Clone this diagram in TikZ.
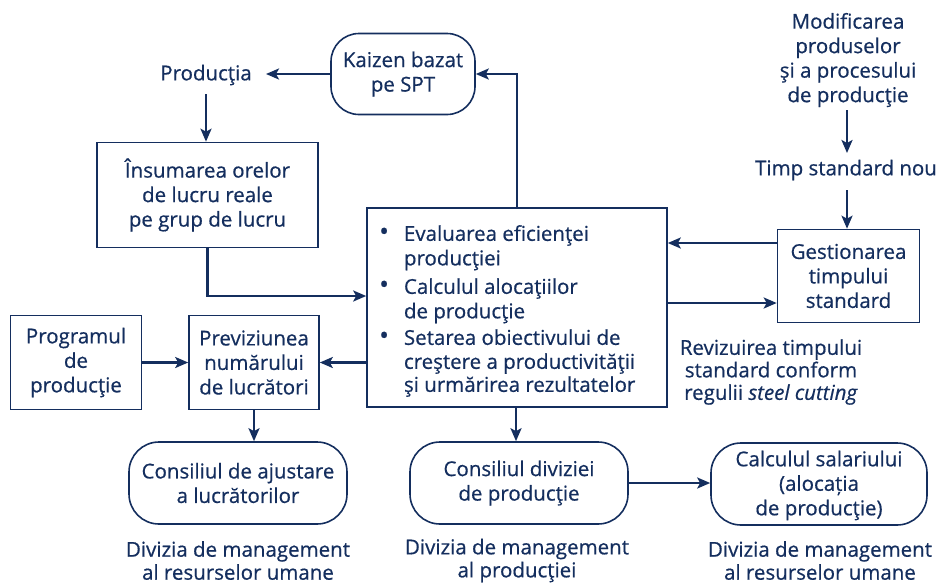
\documentclass[tikz,border=0pt]{standalone}
\usepackage{fontspec}
\setmainfont{Open Sans}[FakeBold=0.6]
\usetikzlibrary{arrows.meta}
\definecolor{navy}{RGB}{20,46,94}
\newcommand{\mybul}{\raisebox{0.5pt}{\fontsize{26}{20}\selectfont\textbullet}}
\begin{document}
\begin{tikzpicture}[x=1pt,y=-1pt,
  txt/.style={text=navy,font=\fontsize{20.5}{24.5}\selectfont,align=center,inner sep=0pt},
  sqbox/.style={txt,draw=navy,line width=1.6pt},
  rdbox/.style={txt,draw=navy,line width=1.6pt,rounded corners=26pt},
  arr/.style={draw=navy,line width=2.4pt,-{Stealth[length=13pt,width=11pt,inset=3pt]}},
  ln/.style={draw=navy,line width=2.4pt}]
\useasboundingbox (0,0) rectangle (939,584);
% nodes
\node[txt] (prod) at (206,75) {Producţia};
\node[rdbox,rounded corners=28pt,minimum width=144pt,minimum height=81pt] (kaizen) at (403,74) {Kaizen bazat\\pe SPT};
\node[sqbox,minimum width=221pt,minimum height=105pt] (ins) at (207.5,195) {Însumarea orelor\\de lucru reale\\pe grup de lucru};
\node[sqbox,minimum width=300pt,minimum height=199pt] (main) at (517,307.5) {};
\node[txt,align=left,anchor=north west] (maintxt) at (379,223.5) {%
\begin{tabular}{@{}l@{\hspace{15pt}}l@{}}
\mybul & Evaluarea eficienţei\\[0pt]
 & producţiei\\[4pt]
\mybul & Calculul alocaţiilor\\[0pt]
 & de producţie\\[2pt]
\mybul & Setarea obiectivului de\\[-0.5pt]
 & creştere a productivităţii\\[-1.5pt]
 & şi urmărirea rezultatelor
\end{tabular}};
\node[txt] (modif) at (848,60) {Modificarea\\produselor\\şi a procesului\\de producţie};
\node[txt] (timp) at (846,170) {Timp standard nou};
\node[sqbox,minimum width=142pt,minimum height=93pt] (gest) at (848.5,276) {Gestionarea\\timpului\\standard};
\node[txt,font=\fontsize{20.5}{22.5}\selectfont] (reviz) at (771,372) {Revizuirea timpului\\standard conform\\regulii \textit{steel cutting}};
\node[sqbox,minimum width=131pt,minimum height=94pt] (progr) at (76,362.5) {Programul\\de\\producţie};
\node[sqbox,minimum width=130pt,minimum height=94pt] (previz) at (254,362.5) {Previziunea\\numărului\\de lucrători};
\node[rdbox,rounded corners=30pt,minimum width=218pt,minimum height=82pt] (cons1) at (238,483) {Consiliul de ajustare\\a lucrătorilor};
\node[rdbox,rounded corners=30pt,minimum width=218pt,minimum height=82pt] (cons2) at (519,483) {Consiliul diviziei\\de producţie};
\node[rdbox,rounded corners=30pt,minimum width=216pt,minimum height=82pt,text depth=2pt] (calc) at (819,484) {Calculul salariului\\(alocația\\de producţie)};
\node[txt,font=\fontsize{20.5}{23}\selectfont] (div1) at (238,560.5) {Divizia de management\\al resurselor umane};
\node[txt,font=\fontsize{20.5}{23}\selectfont] (div2) at (517,560.5) {Divizia de management\\al producţiei};
\node[txt,font=\fontsize{20.5}{23}\selectfont] (div3) at (820,560.5) {Divizia de management\\al resurselor umane};
% connectors
\coordinate (mtop) at (517,208);
\coordinate (kcorner) at (517,74);
\draw[arr] (mtop) -- (kcorner) -- (kaizen.east);
\draw[arr] (kaizen.west) -- (266,74);
\draw[arr] (206,94) -- (ins.north-|206,0);
\draw[arr] (ins.south) |- (main.west|-0,296);
\draw[arr] (gest.west|-0,243) -- (main.east|-0,243);
\draw[arr] (main.east|-0,303) -- (gest.west|-0,303);
\draw[arr] (847,110) -- (847,153);
\draw[arr] (847,190) -- (gest.north-|847,0);
\draw[arr] (progr.east) -- (previz.west);
\draw[arr] (main.west|-previz.east) -- (previz.east);
\draw[arr] (previz.south) -- (previz.south|-cons1.north);
\draw[arr] (main.south-|516,0) -- (cons2.north-|516,0);
\draw[arr] (cons2.east) -- (calc.west|-cons2.east);
\end{tikzpicture}
\end{document}
